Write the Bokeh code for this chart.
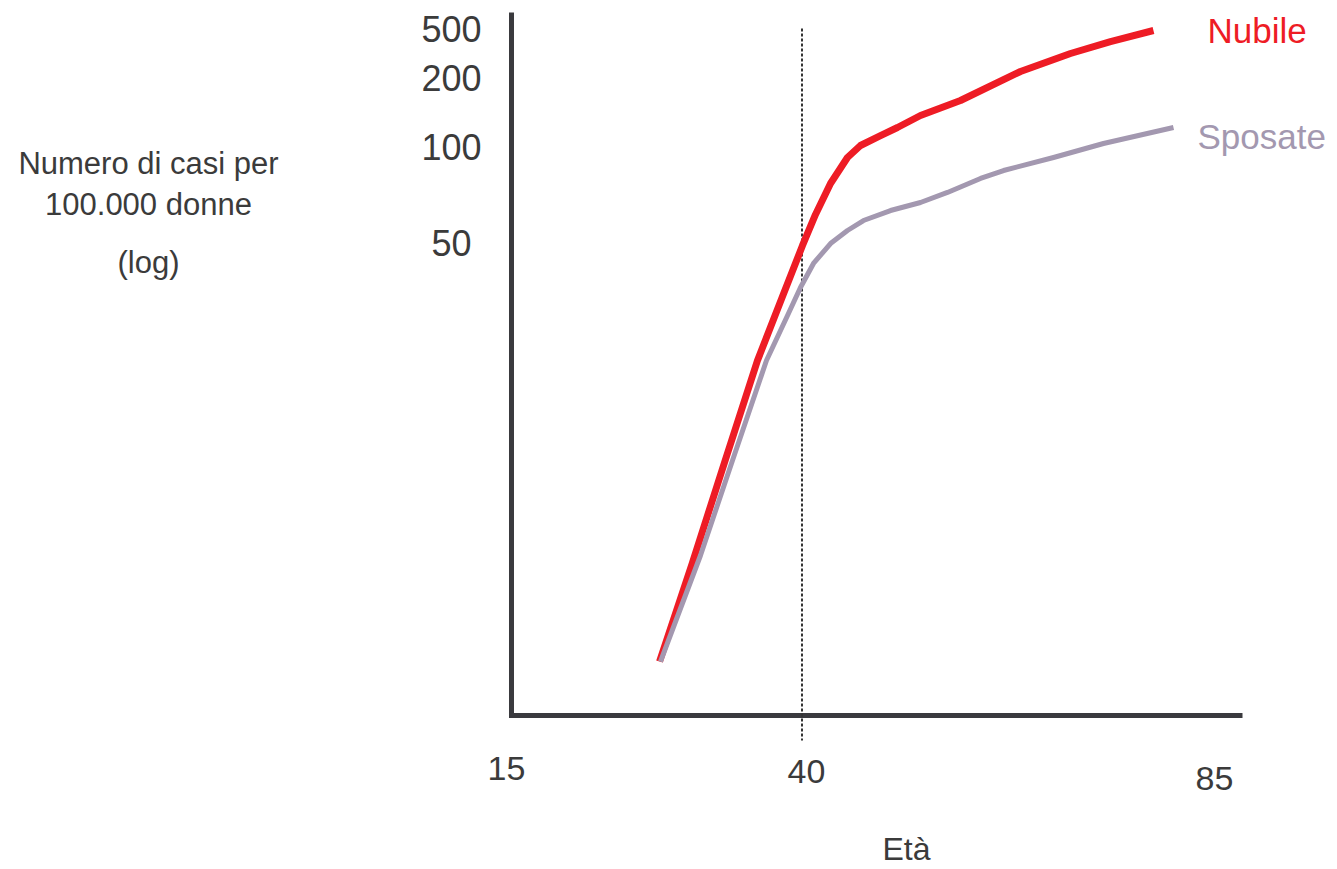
from bokeh.plotting import figure
from bokeh.models import Range1d, Label
from bokeh.core.properties import value
from bokeh.embed import file_html
from bokeh.resources import INLINE

# ---- data (schematic chart: positions expressed in percent of each axis length) ----
x_tick_labels = ["15", "40", "85"]
x_tick_pos = [-0.68, 40.36, 96.17]
y_tick_labels = ["50", "100", "200", "500"]
y_tick_pos = [67.28, 80.80, 90.75, 97.72]

nubile_x = [20.25, 24.76, 29.14, 33.65, 37.07, 39.81, 41.59, 43.64, 45.96, 47.74,
            50.48, 52.80, 55.95, 61.42, 69.63, 76.47, 81.94, 87.82]
nubile_y = [7.68, 21.76, 35.99, 50.50, 59.60, 66.86, 71.27, 75.68, 79.37, 81.08,
            82.50, 83.64, 85.35, 87.48, 91.61, 94.17, 95.87, 97.44]

sposate_x = [20.38, 25.85, 30.23, 34.88, 37.76, 39.53, 41.31, 43.64, 45.96, 48.15,
             51.85, 55.95, 59.64, 64.16, 67.31, 74.15, 80.98, 90.56]
sposate_y = [7.68, 22.76, 36.27, 50.50, 56.90, 60.88, 64.30, 67.14, 68.99, 70.41,
             71.83, 72.97, 74.40, 76.39, 77.52, 79.37, 81.37, 83.64]

age40_x = 39.74  # dotted reference line

FONT = "Liberation Sans"
AXIS_COLOR = "#3a3a3e"
TEXT_COLOR = "#3b3b3b"
RED = "#ee1c25"
GRAY = "#a398b0"

p = figure(width=1329, height=867,
           x_range=Range1d(-69.904, 111.902), y_range=Range1d(-21.622, 101.707),
           output_backend="svg", toolbar_location=None,
           x_axis_location=None, y_axis_location=None, min_border=0)
p.grid.visible = False
p.outline_line_color = None
p.background_fill_color = "white"
p.border_fill_color = "white"

# axes (L-shaped, joined corner)
p.line([0, 0, 100], [100, 0, 0], line_color=AXIS_COLOR, line_width=5,
       line_join="miter", line_cap="butt")

# tick labels
p.text(x=x_tick_pos, y=[-7.54, -7.97, -8.96], text=x_tick_labels,
       text_font=value(FONT), text_font_size=value("34px"), text_color=TEXT_COLOR,
       text_align="center", text_baseline="middle")
p.text(x=[-8.21] * len(y_tick_pos), y=y_tick_pos, text=y_tick_labels,
       text_font=value(FONT), text_font_size=value("36px"), text_color=TEXT_COLOR,
       text_align="center", text_baseline="middle")

# dotted reference line at age 40
p.segment(x0=[age40_x], y0=[97.72], x1=[age40_x], y1=[-3.56],
          line_color="#333333", line_width=2, line_dash="3 2")

# curves
p.line(nubile_x, nubile_y, line_color=RED, line_width=7, line_join="round")
p.line(sposate_x, sposate_y, line_color=GRAY, line_width=5, line_join="round")

# series labels
p.add_layout(Label(x=95.21, y=97.44, text="Nubile", text_font=FONT,
                   text_font_size="35px", text_color=RED,
                   text_align="left", text_baseline="middle"))
p.add_layout(Label(x=93.84, y=82.4, text="Sposate", text_font=FONT,
                   text_font_size="35px", text_color=GRAY,
                   text_align="left", text_baseline="middle"))

# axis titles
for txt, yy in [("Numero di casi per", 78.52), ("100.000 donne", 72.69), ("(log)", 64.44)]:
    p.add_layout(Label(x=-49.66, y=yy, text=txt, text_font=FONT,
                       text_font_size="31px", text_color=TEXT_COLOR,
                       text_align="center", text_baseline="middle"))

p.add_layout(Label(x=54.04, y=-19.0, text="Età", text_font=FONT,
                   text_font_size="32px", text_color=TEXT_COLOR,
                   text_align="center", text_baseline="middle"))

open("out.html", "w").write(file_html(p, INLINE))
